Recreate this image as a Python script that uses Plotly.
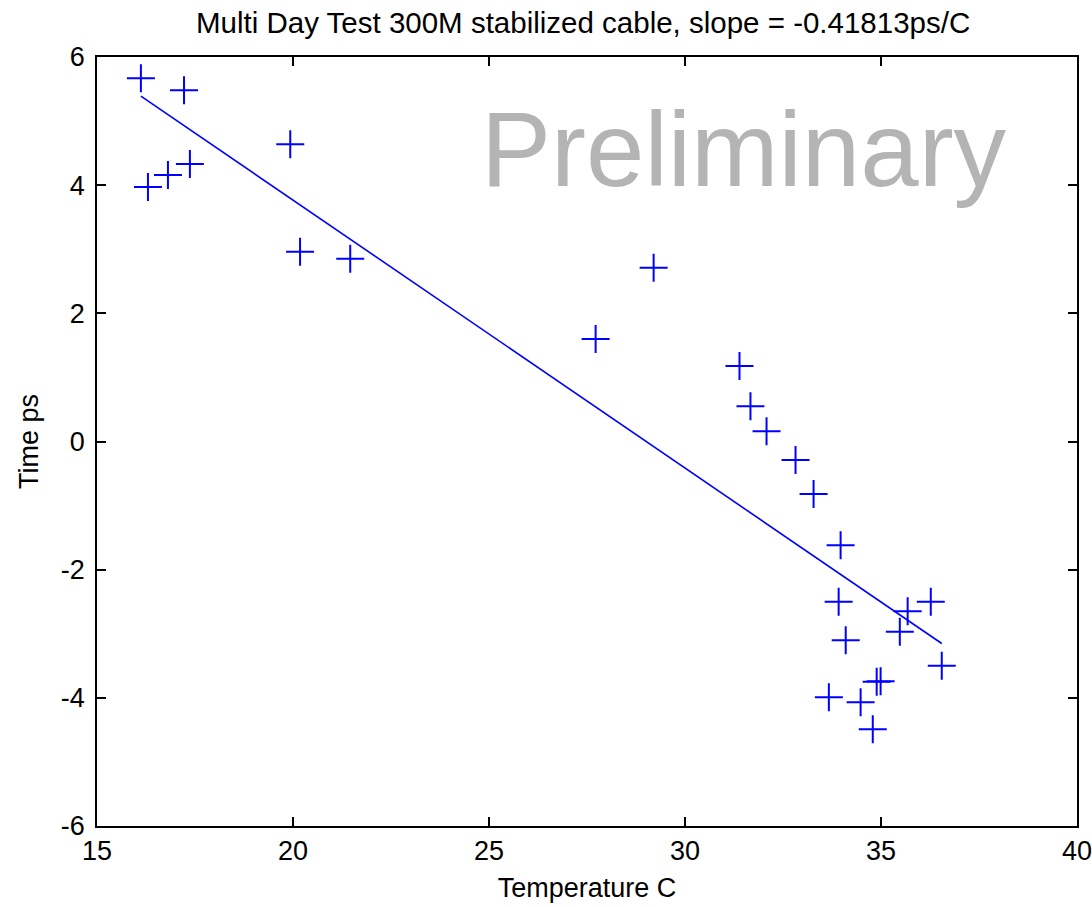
import numpy as np
import plotly.graph_objects as go

# temperature (C) and time offset (ps)
temp_c = [16.12, 17.22, 16.30, 16.81, 17.37, 19.93, 20.18, 21.46, 27.72, 29.20,
          31.39, 31.67, 32.08, 32.82, 33.28, 33.97, 33.92, 34.10, 33.67, 34.48,
          34.79, 34.89, 34.99, 35.48, 35.68, 36.27, 36.55]
time_ps = [5.67, 5.48, 3.97, 4.16, 4.33, 4.64, 2.96, 2.85, 1.60, 2.71,
           1.18, 0.55, 0.16, -0.29, -0.82, -1.62, -2.50, -3.10, -3.99, -4.07,
           -4.49, -3.75, -3.74, -2.97, -2.65, -2.50, -3.50]

# linear fit
slope = -0.41813
intercept = 12.13
fit_x = np.array([min(temp_c), max(temp_c)])
fit_y = slope * fit_x + intercept

x_ticks = [15, 20, 25, 30, 35, 40]
y_ticks = [-6, -4, -2, 0, 2, 4, 6]

font = "Liberation Sans, Arial, sans-serif"
fsize = 27

fig = go.Figure()
fig.add_trace(go.Scatter(x=fit_x, y=fit_y, mode="lines",
                         line=dict(color="#0000ff", width=1.6), showlegend=False))
fig.add_trace(go.Scatter(x=temp_c, y=time_ps, mode="markers",
                         marker=dict(symbol="cross-thin", size=20,
                                     line=dict(color="#0000ff", width=2)),
                         showlegend=False))

fig.add_annotation(text="Preliminary", x=0.66, y=0.88, xref="paper", yref="paper",
                   showarrow=False, xanchor="center", yanchor="middle",
                   font=dict(family=font, size=105, color="#b4b4b4"))

axis_common = dict(showline=True, linecolor="black", linewidth=1.5, mirror="allticks",
                   ticks="inside", ticklen=9, tickcolor="black", tickwidth=1.5,
                   showgrid=False, zeroline=False, ticklabeloverflow="allow",
                   automargin=False,
                   tickfont=dict(family=font, size=fsize, color="black"))

fig.update_xaxes(range=[15, 40], tickvals=x_ticks, ticktext=[str(v) for v in x_ticks],
                 title=dict(text="Temperature C", font=dict(family=font, size=fsize, color="black"),
                            standoff=13),
                 **axis_common)
fig.update_yaxes(range=[-6, 6], tickvals=y_ticks, ticktext=[str(v) for v in y_ticks],
                 ticklabelstandoff=5,
                 title=dict(text="Time ps", font=dict(family=font, size=fsize, color="black"),
                            standoff=14),
                 **axis_common)

fig.update_layout(
    width=1092, height=907,
    margin=dict(l=97, r=15, t=57, b=81, autoexpand=False),
    plot_bgcolor="white", paper_bgcolor="white",
    title=dict(text="Multi Day Test 300M stabilized cable, slope = -0.41813ps/C",
               x=0.534, xanchor="center", xref="container",
               y=0.975, yanchor="middle", yref="container",
               font=dict(family=font, size=29.5, color="black")),
)

# drop the default body margin so the figure fills the window exactly
fig.write_html("out.html", config={"displayModeBar": False},
               post_script="document.body.style.margin = '0';")
